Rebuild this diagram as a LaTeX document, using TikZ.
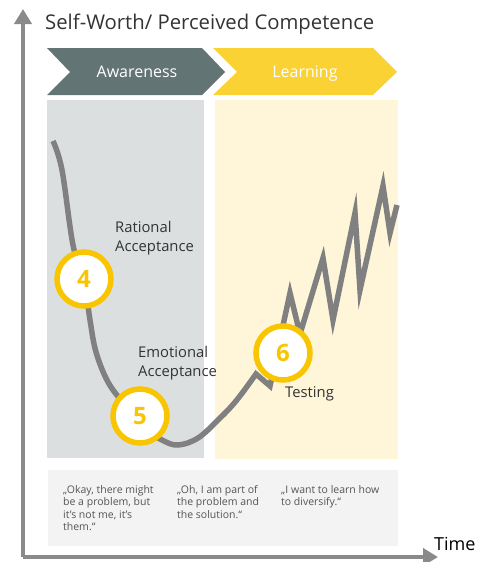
\documentclass[tikz,border=0pt]{standalone}
\usepackage{fontspec}
\setmainfont{Open Sans}
\usetikzlibrary{arrows.meta}
\definecolor{axisgray}{HTML}{8A8A8A}
\definecolor{curvegray}{HTML}{808080}
\definecolor{slate}{HTML}{637474}
\definecolor{sun}{HTML}{FBD234}
\definecolor{panelgray}{HTML}{DCDFE0}
\definecolor{panelyellow}{HTML}{FFF5D9}
\definecolor{quotebg}{HTML}{F3F3F3}
\definecolor{ring}{HTML}{F8C500}
\definecolor{textdark}{HTML}{333333}
\definecolor{quotetext}{HTML}{555555}
\begin{document}
\begin{tikzpicture}[x=1pt,y=-1pt,
  axis/.style={draw=axisgray,line width=4pt,-{Triangle[width=17pt,length=15pt]}},
  chevtext/.style={text=white,font=\fontsize{16}{18}\selectfont,anchor=base,inner sep=0pt},
  label/.style={text=textdark,font=\fontsize{14.8}{19}\selectfont,align=left,anchor=north west,inner sep=0pt},
  quote/.style={text=quotetext,font=\fontsize{10.5}{12.5}\selectfont,align=left,anchor=north west,inner sep=0pt},
  stepcircle/.style={circle,draw=ring,line width=5.5pt,fill=white,minimum size=54pt,inner sep=0pt,
    text=ring,font=\fontsize{24}{24}\selectfont\bfseries},
  curve/.style={draw=curvegray,line width=5.5pt,line join=miter,miter limit=10}]
\useasboundingbox (0,0) rectangle (480,562);
% panels
\fill[panelgray] (47,100) rectangle (204,458);
\fill[panelyellow] (215,100) rectangle (398,459);
\fill[quotebg] (48,470) rectangle (398,546);
% chevrons
\fill[slate] (47,48) -- (202,48) -- (225,72) -- (202,95) -- (47,95) -- (70,72) -- cycle;
\fill[sun] (213,48) -- (373,48) -- (397,72) -- (373,95) -- (213,95) -- (237,72) -- cycle;
\node[chevtext] (aw) at (137,77.5) {Awareness};
\node[chevtext] (le) at (305,77.5) {Learning};
% axes
\coordinate (origin) at (23,557);
\coordinate (ytop) at (23,9);
\coordinate (xend) at (438,557);
\draw[axis] (origin) -- (ytop);
\draw[axis] (origin) -- (xend);
\node[anchor=base west,inner sep=0pt,text=textdark,font=\fontsize{20.3}{22}\selectfont] (title) at (45,29.5) {Self-Worth/ Perceived Competence};
\node[anchor=base west,inner sep=0pt,text=black,font=\fontsize{18}{20}\selectfont] (time) at (434,550) {Time};
% curve
\draw[curve] plot[smooth,tension=0.6] coordinates {(53,141) (62,170) (73,245) (84,280) (90,320) (96,352) (108,382) (125,405) (145,428) (162,440) (178,445) (198,438) (218,420) (236,401) (256,374)}
  -- (270,386) -- (290,293) -- (300,334) -- (323,258) -- (333,320) -- (355,213) -- (360,290) -- (383,186) -- (390,233) -- (397,205);
% circles
\node[stepcircle] (c4) at (84,279) {4};
\node[stepcircle] (c5) at (140,416) {5};
\node[stepcircle] (c6) at (283,353) {6};
% labels
\node[label] (rat) at (115,221) {Rational\\Acceptance};
\node[label] (emo) at (138,346) {Emotional\\Acceptance};
\node[label] (tes) at (285,386) {Testing};
% quotes
\node[quote] (q1) at (63,485) {„Okay, there might\\be a problem, but\\it’s not me, it’s\\them.“};
\node[quote] (q2) at (177,485) {„Oh, I am part of\\the problem and\\the solution.“};
\node[quote] (q3) at (281,485) {„I want to learn how\\to diversify.“};
\end{tikzpicture}
\end{document}
